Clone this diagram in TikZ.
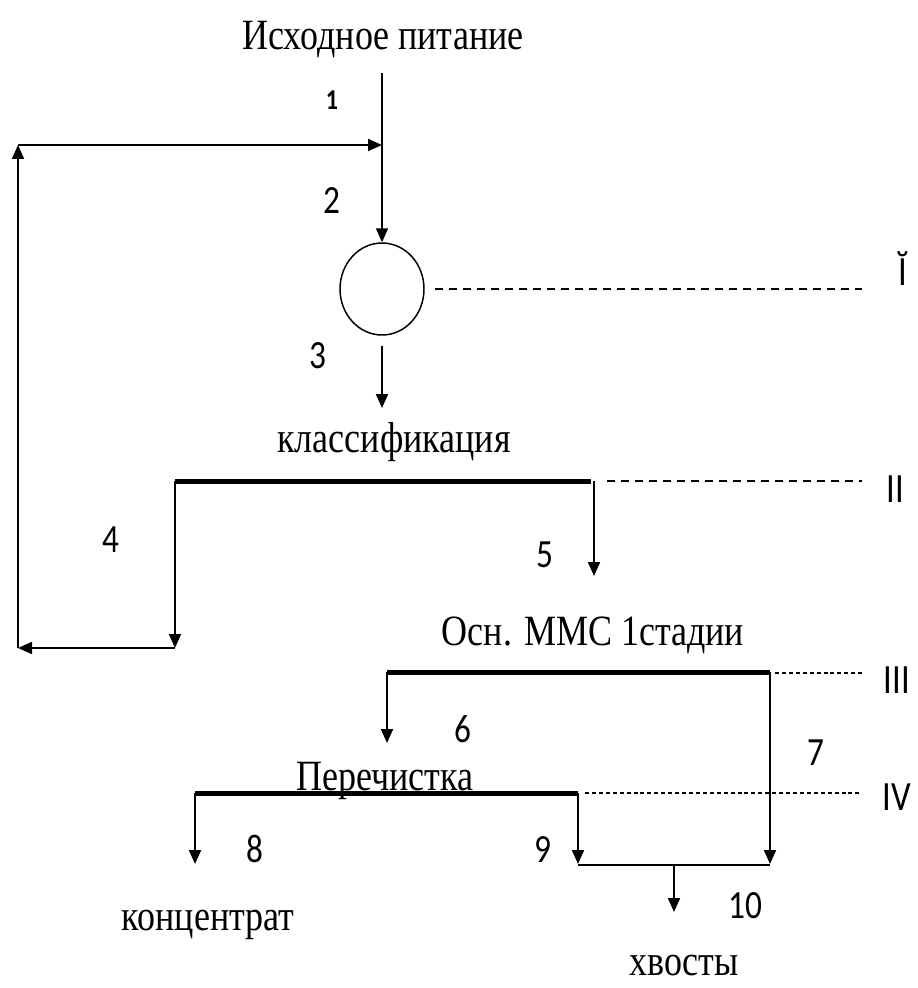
\documentclass[tikz,border=0pt]{standalone}
\usepackage{fontspec}
\setmainfont{Liberation Serif}
\newfontfamily\numfont{Carlito}
\usetikzlibrary{arrows.meta,shapes.geometric}
\newcommand{\tallt}[1]{\scalebox{1}[1.2]{#1}}
\begin{document}
\begin{tikzpicture}[x=0.75pt,y=-0.75pt,
  flow/.style={line width=1.5pt,-{Triangle[width=9pt,length=10.5pt]}},
  plain/.style={line width=1.5pt},
  joinline/.style={line width=1pt},
  screen/.style={line width=3.75pt},
  level/.style={line width=1pt,dash pattern=on 6pt off 4.5pt},
  levelthin/.style={line width=0.8pt,dash pattern=on 3pt off 2.2pt},
  lbl/.style={inner sep=0pt,anchor=base,font=\fontsize{27}{30}\selectfont},
  num/.style={inner sep=0pt,anchor=base,font=\numfont\fontsize{25}{27}\selectfont},
  roman/.style={inner sep=0pt,anchor=base,font=\numfont\fontsize{26}{28}\selectfont},
]
\useasboundingbox (0,0) rectangle (917,988);

% texts
\node[lbl] (feed) at (383,50) {\tallt{Исходное питание}};
\node[lbl] (klass) at (394,452) {\tallt{классификация}};
\node[lbl] (osn) at (593,645) {\tallt{Осн. ММС 1стадии}};
\node[lbl] (perech) at (385,790) {\tallt{Перечистка}};
\node[lbl] (conc) at (208,930) {\tallt{концентрат}};
\node[lbl] (tails) at (684,975) {\tallt{хвосты}};

% numbers
\node[num,font=\numfont\bfseries\fontsize{18}{20}\selectfont] (n1) at (332,110) {\tallt{1}};
\node[num] (n2) at (332,213) {\tallt{2}};
\node[num] (n3) at (318,368) {\tallt{3}};
\node[num] (n4) at (111,552) {\tallt{4}};
\node[num] (n5) at (545,567) {\tallt{5}};
\node[num] (n6) at (463,742) {\tallt{6}};
\node[num] (n7) at (816,765) {\tallt{7}};
\node[num] (n8) at (255,862) {\tallt{8}};
\node[num] (n9) at (543,862) {\tallt{9}};
\node[num] (n10) at (745,918) {\tallt{10}};

% roman level marks
\node[roman] (r1) at (903,285) {\tallt{Ĭ}};
\node[roman] (r2) at (895,502) {\tallt{II}};
\node[roman] (r3) at (897,693) {\tallt{III}};
\node[roman] (r4) at (897,810) {\tallt{IV}};

% mill
\node[ellipse,draw,line width=1.1pt,minimum width=63pt,minimum height=69pt,inner sep=0pt] (mill) at (382,289) {};

% coordinates
\coordinate (ftop) at (382,73);
\coordinate (j1) at (382,145);
\coordinate (ltop) at (18,145);
\coordinate (lbot) at (18,648);
\coordinate (s1L) at (175,481);
\coordinate (s1R) at (591,481);
\coordinate (c4bot) at (175,648);
\coordinate (c5top) at (594,481);
\coordinate (c5bot) at (594,576);
\coordinate (c3bot) at (382,408);
\coordinate (s2L) at (387,672);
\coordinate (s2R) at (770,672);
\coordinate (c6bot) at (387,743);
\coordinate (c7bot) at (770,864);
\coordinate (s3L) at (195,793);
\coordinate (s3R) at (578,793);
\coordinate (c8bot) at (195,864);
\coordinate (c9bot) at (578,864);
\coordinate (jL) at (578,865);
\coordinate (jR) at (770,865);
\coordinate (j10) at (674,865);
\coordinate (c10bot) at (674,912);
\coordinate (d1a) at (435,289);
\coordinate (d1b) at (862,289);
\coordinate (d2a) at (607,481);
\coordinate (d2b) at (862,481);
\coordinate (d3a) at (775,673);
\coordinate (d3b) at (862,673);
\coordinate (d4a) at (585,793);
\coordinate (d4b) at (862,793);

% feed & mill
\draw[plain] (ftop) -- (j1);
\draw[flow] (j1) -- (mill.north);
\draw[flow,shorten <=7.5pt] (mill.south) -- (c3bot);

% classification screen
\draw[screen] (s1L) -- (s1R);
\draw[flow] (s1L) -- (c4bot);
\draw[flow] (c4bot) -- (lbot);
\draw[flow] (lbot) -- (ltop);
\draw[flow] (ltop) -- (j1);
\draw[flow] (c5top) -- (c5bot);

% main MMS screen
\draw[screen] (s2L) -- (s2R);
\draw[flow] (s2L) -- (c6bot);
\draw[flow] (s2R) -- (c7bot);

% cleaner screen
\draw[screen] (s3L) -- (s3R);
\draw[flow] (s3L) -- (c8bot);
\draw[flow] (s3R) -- (c9bot);
\draw[joinline] (jL) -- (jR);
\draw[flow] (j10) -- (c10bot);

% level lines
\draw[level] (d1a) -- (d1b);
\draw[level] (d2a) -- (d2b);
\draw[levelthin] (d3a) -- (d3b);
\draw[levelthin] (d4a) -- (d4b);
\end{tikzpicture}
\end{document}
